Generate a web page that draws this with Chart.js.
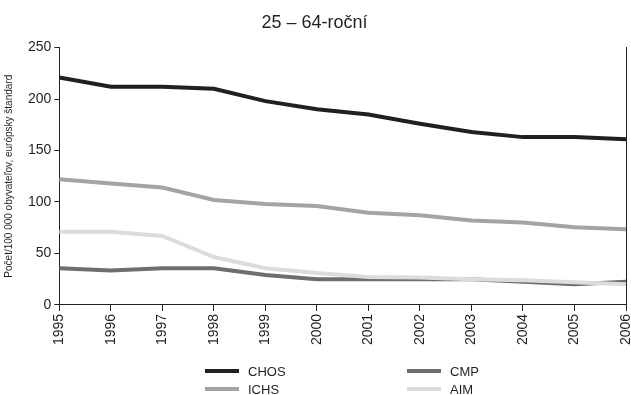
<!DOCTYPE html>
<html lang="sk">

<head>
    <meta charset="utf-8">
    <title>25 – 64-roční</title>
    <script src="https://cdn.jsdelivr.net/npm/chart.js"></script>
    <style>
        body { margin: 0; background: #fff; font-family: "Liberation Sans", Arial, sans-serif; }
        #wrap { position: relative; width: 631px; height: 395px; }
        #legend { position: absolute; left: 205px; top: 363px; width: 300px;
            display: grid; grid-template-columns: 202px 100px; row-gap: 2px; }
        .item { display: flex; align-items: center; font-size: 13px; color: #231f20; height: 16px; }
        .swatch { width: 34px; height: 4px; margin-right: 9px; }
    </style>
</head>

<body>
    <div id="wrap">
        <canvas id="chart"></canvas>
        <div id="legend"></div>
    </div>

    <script>
        const years = ['1995', '1996', '1997', '1998', '1999', '2000', '2001', '2002', '2003', '2004', '2005', '2006'];
        const chos = [221, 212, 212, 210, 198, 190, 185, 176, 168, 163, 163, 161];
        const ichs = [122, 118, 114, 102, 98, 96, 89.5, 87, 82, 80, 75.5, 73.5];
        const cmp = [35.5, 33.5, 35.5, 35.5, 29, 25, 25, 25, 25, 22.5, 20, 22.5];
        const aim = [71, 71, 67, 46.5, 35.5, 31, 27, 26.5, 25, 24, 22, 20];

        const ink = '#231f20';
        const fam = '"Liberation Sans", Arial, sans-serif';
        const mk = (label, data, color) => ({
            label: label, data: data, borderColor: color, backgroundColor: color,
            borderWidth: 4, pointRadius: 0, tension: 0, fill: false
        });

        // draw order: light lines first, black on top
        const datasets = [
            mk('AIM', aim, '#dcdcdd'),
            mk('CMP', cmp, '#6d6e70'),
            mk('ICHS', ichs, '#a3a4a6'),
            mk('CHOS', chos, ink)
        ];

        const chart = new Chart(document.getElementById('chart'), {
            type: 'line',
            data: { labels: years, datasets: datasets },
            options: {
                responsive: true,
                maintainAspectRatio: false,
                animation: false,
                layout: { padding: { left: 3, right: 5, top: 0, bottom: 47 } },
                plugins: {
                    legend: { display: false },
                    tooltip: { enabled: false },
                    title: {
                        display: true,
                        text: '25 – 64-roční',
                        color: ink,
                        font: { size: 18, family: fam, weight: 'normal' },
                        padding: { top: 12, bottom: 14 }
                    }
                },
                scales: {
                    x: {
                        // the last rotated label may hang over the edge like in the original
                        afterFit: (scale) => { scale.paddingRight = 0; },
                        grid: { drawOnChartArea: false, drawTicks: true, tickLength: 6, color: ink },
                        border: { color: ink, width: 1 },
                        ticks: {
                            color: ink, minRotation: 90, maxRotation: 90, autoSkip: false, padding: 3,
                            font: { size: 14, family: fam }
                        }
                    },
                    y: {
                        min: 0, max: 250,
                        grid: { drawOnChartArea: false, drawTicks: true, tickLength: 5, color: ink },
                        border: { color: ink, width: 1 },
                        ticks: {
                            stepSize: 50, color: ink, padding: 3,
                            font: { size: 14, family: fam }
                        },
                        title: {
                            display: true,
                            text: 'Počet/100 000 obyvateľov, európsky štandard',
                            color: ink,
                            font: { size: 10, family: fam },
                            padding: { top: 0, bottom: 10 }
                        }
                    },
                    y2: {
                        position: 'right',
                        min: 0, max: 250,
                        grid: { drawOnChartArea: false, drawTicks: false },
                        border: { color: ink, width: 1 },
                        ticks: { display: false, padding: 0 }
                    }
                }
            }
        });

        // legend in two columns, same order as the original
        const legendOrder = ['CHOS', 'CMP', 'ICHS', 'AIM'];
        const legendBox = document.getElementById('legend');
        legendOrder.forEach(name => {
            const ds = chart.data.datasets.find(d => d.label === name);
            const item = document.createElement('div');
            item.className = 'item';
            item.innerHTML = '<span class="swatch" style="background:' + ds.borderColor + '"></span>' + ds.label;
            legendBox.appendChild(item);
        });
    </script>
</body>

</html>
